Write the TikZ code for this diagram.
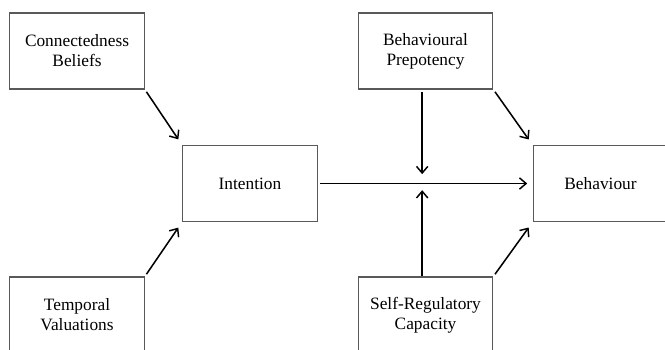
\documentclass[tikz,border=0pt]{standalone}
\usepackage{fontspec}
\setmainfont{Liberation Serif}
\usepackage{tikz}
\usetikzlibrary{arrows.meta, positioning}

\begin{document}
\begin{tikzpicture}[
    x=0.75pt, y=-0.75pt,
    font=\fontsize{13}{15}\selectfont,
    box/.style={draw=black!65, line width=0.9pt, align=center, minimum width=101pt, minimum height=57pt, inner sep=2pt},
    link/.style={line width=1.15pt, -{Straight Barb[length=5pt, width=8.5pt, line width=1.1pt]}}
]
    \clip (0,0) rectangle (665,350);

    % Boxes
    \node [box] (conn) at (77,51) {Connectedness\\Beliefs};
    \node [box] (temp) at (77,315) {Temporal\\Valuations};
    \node [box] (intent) at (250,183.5) {Intention};
    \node [box] (prep) at (425.5,51) {Behavioural\\Prepotency};
    \node [box] (selfreg) at (425.5,315) {Self-Regulatory\\Capacity};
    \node [box] (behav) at (600.5,183.5) {Behaviour};

    % Moderation point on the main path
    \coordinate (joint) at ([xshift=-2.5pt]prep.south |- intent.east);

    % Arrows into Intention
    \draw [link, shorten <=2pt, shorten >=5pt] (conn.south east) -- (intent.north west);
    \draw [link, shorten <=2pt, shorten >=5pt] (temp.north east) -- (intent.south west);

    % Main path
    \draw [link, shorten <=1.5pt, shorten >=4pt] (intent.east) -- (behav.west);

    % Moderators
    \draw [link, shorten <=2pt, shorten >=7pt] ([xshift=-2.5pt]prep.south) -- (joint);
    \draw [link, shorten >=5pt] ([xshift=-2.5pt]selfreg.north) -- (joint);
    \draw [link, shorten <=2pt, shorten >=5pt] (prep.south east) -- (behav.north west);
    \draw [link, shorten <=2pt, shorten >=5pt] (selfreg.north east) -- (behav.south west);
\end{tikzpicture}
\end{document}
